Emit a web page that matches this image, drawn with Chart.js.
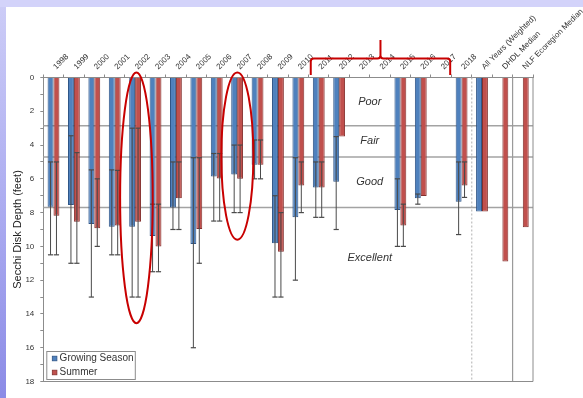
<!DOCTYPE html>
<html>
<head>
<meta charset="utf-8">
<script src="https://cdn.jsdelivr.net/npm/chart.js@4.4.1/dist/chart.umd.min.js"></script>
<style>
  html, body { margin: 0; padding: 0; }
  body {
    width: 583px; height: 398px; position: relative; overflow: hidden;
    background: linear-gradient(to bottom, #cdcdf7 0%, #aaaaf0 55%, #8b8be6 100%);
  }
  #band { position: absolute; left: 0; top: 0; width: 583px; height: 7px; background: #d3d3fa; }
  #panel { position: absolute; left: 6px; top: 7px; width: 577px; height: 391px; background: #fff; }
  canvas { display: block; }
</style>
</head>
<body>
<div id="band"></div>
<div id="panel"><canvas id="c" width="577" height="391"></canvas></div>
<script>
// Secchi disk depth by year, growing season vs. summer averages (feet)
const categories = [
  '1998', '1999', '2000', '2001', '2002', '2003', '2004', '2005', '2006', '2007',
  '2008', '2009', '2010', '2011', '2012', '2013', '2014', '2015', '2016', '2017',
  '2018', 'All Years (Weighted)', 'DHDL Median', 'NLF Ecoregion Median'
];

const growingSeason = [
  7.65, 7.55, 8.67, 8.83, 8.83, 9.39, 7.7, 9.86, 5.86, 5.74,
  5.17, 9.82, 8.28, 6.52, 6.18, null, null, 7.84, 7.15, null,
  7.35, 7.94, null, null
];
const summer = [
  8.18, 8.54, 8.93, 8.77, 8.54, 10.0, 7.15, 8.97, 5.98, 6.0,
  5.17, 10.32, 6.4, 6.52, 3.49, null, null, 8.77, 7.01, null,
  6.4, 7.94, 10.9, 8.87
];

// Range of observed depths (shallowest / deepest) for each bar
const growingMin = [
  5.0, 3.45, 5.47, 5.47, 3.0, 7.5, 5.0, 4.75, 4.5, 4.0,
  3.7, 7.0, 4.75, 5.0, 3.5, null, null, 6.0, 6.9, null,
  5.0, null, null, null
];
const growingMax = [
  10.5, 11.0, 13.0, 10.5, 13.0, 11.5, 9.0, 16.0, 8.5, 8.0,
  6.0, 13.0, 12.0, 8.28, 9.0, null, null, 10.0, 7.5, null,
  9.3, null, null, null
];
const summerMin = [
  5.0, 4.45, 6.0, 5.5, 3.0, 7.5, 5.0, 4.75, 4.5, 4.0,
  3.7, 8.0, 5.0, 5.0, null, null, null, 7.5, null, null,
  5.0, null, null, null
];
const summerMax = [
  10.5, 11.0, 10.0, 10.5, 13.0, 11.5, 9.0, 11.0, 8.5, 8.0,
  6.0, 13.0, 8.0, 8.28, null, null, null, 10.0, null, null,
  7.1, null, null, null
];

// Water clarity classes and the depths that separate them
const zoneNames = ['Poor', 'Fair', 'Good', 'Excellent'];
const zoneBreaks = [2.85, 4.7, 7.7];

const FONT = '"Liberation Sans", Arial, Helvetica, sans-serif';
const BLUE = '#4f81bd', BLUE_EDGE = '#2f5587';
const RED = '#c0504d', RED_EDGE = '#84302e';

function seg(ctx, x1, y1, x2, y2) {
  ctx.beginPath(); ctx.moveTo(x1, y1); ctx.lineTo(x2, y2); ctx.stroke();
}

const decorations = {
  id: 'decorations',
  beforeDatasetsDraw(chart) {
    const { ctx, chartArea: a, scales: { x, y } } = chart;
    ctx.save();
    // class boundary lines
    ctx.strokeStyle = '#a3a3a3';
    ctx.lineWidth = 1.5;
    zoneBreaks.forEach(d => {
      const py = y.getPixelForValue(d);
      seg(ctx, a.left, py, a.right, py);
    });
    // separators before the summary columns
    const s1 = (x.getPixelForValue(20) + x.getPixelForValue(21)) / 2;
    const s2 = (x.getPixelForValue(22) + x.getPixelForValue(23)) / 2;
    ctx.lineWidth = 1;
    ctx.strokeStyle = '#b0b0b0';
    ctx.setLineDash([2, 2]);
    seg(ctx, s1, a.top, s1, a.bottom);
    ctx.setLineDash([]);
    ctx.strokeStyle = '#9a9a9a';
    ctx.lineWidth = 1.2;
    seg(ctx, s2, a.top, s2, a.bottom);
    // class names
    ctx.fillStyle = '#333';
    ctx.font = 'italic 11px ' + FONT;
    ctx.textAlign = 'center';
    ctx.textBaseline = 'middle';
    const tx = (x.getPixelForValue(15) + x.getPixelForValue(16)) / 2;
    const mids = [
      zoneBreaks[0] / 2,
      (zoneBreaks[0] + zoneBreaks[1]) / 2,
      (zoneBreaks[1] + zoneBreaks[2]) / 2,
      zoneBreaks[2] + 3.0
    ];
    zoneNames.forEach((n, i) => ctx.fillText(n, tx, y.getPixelForValue(mids[i])));
    ctx.restore();
  },
  afterDatasetsDraw(chart) {
    const { ctx, chartArea: a, scales: { x, y } } = chart;
    ctx.save();
    // min / max range whiskers
    chart.data.datasets.forEach((ds, di) => {
      const meta = chart.getDatasetMeta(di);
      meta.data.forEach((bar, i) => {
        const lo = ds.rangeMin[i], hi = ds.rangeMax[i];
        if (lo == null || hi == null || ds.data[i] == null) return;
        const cx = bar.x;
        const y1 = y.getPixelForValue(lo), y2 = y.getPixelForValue(hi);
        ctx.strokeStyle = '#4a4a4a';
        ctx.lineWidth = 1;
        seg(ctx, cx, y1, cx, y2);
        ctx.lineWidth = 1.2;
        seg(ctx, cx - 2.6, y1, cx + 2.6, y1);
        seg(ctx, cx - 2.6, y2, cx + 2.6, y2);
      });
    });
    // plot frame (right and bottom)
    ctx.strokeStyle = '#8c8c8c';
    ctx.lineWidth = 1;
    seg(ctx, a.right, a.top, a.right, a.bottom);
    seg(ctx, a.left, a.bottom, a.right, a.bottom);

    // legend box, lower left corner of the plot
    const lx = a.left + 3.5, lw = 88.5, lh = 28, ly = a.bottom - 2 - lh;
    ctx.fillStyle = '#fff';
    ctx.fillRect(lx, ly, lw, lh);
    ctx.strokeStyle = '#8c8c8c';
    ctx.strokeRect(lx, ly, lw, lh);
    ctx.font = '10px ' + FONT;
    ctx.textAlign = 'left';
    ctx.textBaseline = 'middle';
    chart.data.datasets.forEach((ds, di) => {
      const cy = ly + 7 + di * 14;
      ctx.fillStyle = ds.backgroundColor;
      ctx.fillRect(lx + 5.5, cy - 2.3, 4.6, 4.6);
      ctx.strokeStyle = ds.borderColor;
      ctx.lineWidth = 0.8;
      ctx.strokeRect(lx + 5.5, cy - 2.3, 4.6, 4.6);
      ctx.fillStyle = '#333';
      ctx.fillText(ds.label, lx + 12.8, cy);
    });

    // highlight rings around 2002 and 2007
    ctx.strokeStyle = '#c80000';
    ctx.lineWidth = 2;
    const ring = (idx, dx, top, bottom, rx) => {
      const cx = x.getPixelForValue(idx) + dx;
      const t = y.getPixelForValue(top), b = y.getPixelForValue(bottom);
      ctx.beginPath();
      ctx.ellipse(cx, (t + b) / 2, rx, (b - t) / 2, 0, 0, Math.PI * 2);
      ctx.stroke();
    };
    ring(4, 1.3, -0.3, 14.55, 16.3);
    ring(9, 0.2, -0.3, 9.6, 16);

    // brace over the 2011-2017 gap years
    const bl = x.getPixelForValue(13) - 8, br = x.getPixelForValue(19) + 9;
    const bc = (bl + br) / 2, hy = a.top - 19, ey = a.top - 2.5, ty = a.top - 37.5, r = 3;
    ctx.beginPath();
    ctx.moveTo(bl, ey);
    ctx.lineTo(bl, hy + r);
    ctx.quadraticCurveTo(bl, hy, bl + r, hy);
    ctx.lineTo(bc - r, hy);
    ctx.quadraticCurveTo(bc, hy, bc, hy - r);
    ctx.lineTo(bc, ty);
    ctx.moveTo(bc, hy - r);
    ctx.quadraticCurveTo(bc, hy, bc + r, hy);
    ctx.lineTo(br - r, hy);
    ctx.quadraticCurveTo(br, hy, br, hy + r);
    ctx.lineTo(br, ey);
    ctx.stroke();
    ctx.restore();
  }
};

new Chart(document.getElementById('c'), {
  type: 'bar',
  data: {
    labels: categories,
    datasets: [
      {
        label: 'Growing Season', data: growingSeason,
        rangeMin: growingMin, rangeMax: growingMax,
        backgroundColor: BLUE, borderColor: BLUE_EDGE, borderWidth: 1
      },
      {
        label: 'Summer', data: summer,
        rangeMin: summerMin, rangeMax: summerMax,
        backgroundColor: RED, borderColor: RED_EDGE, borderWidth: 1
      }
    ]
  },
  options: {
    responsive: false,
    animation: false,
    devicePixelRatio: 1,
    layout: { padding: { left: 5, top: 0, right: 50, bottom: 16.5 } },
    datasets: { bar: { categoryPercentage: 0.58, barPercentage: 1 } },
    plugins: { legend: { display: false }, tooltip: { enabled: false } },
    scales: {
      x: {
        position: 'top',
        grid: { offset: true, drawOnChartArea: false, tickLength: 3, color: '#8c8c8c' },
        border: { color: '#8c8c8c' },
        ticks: {
          autoSkip: false, minRotation: 45, maxRotation: 45,
          padding: 3, labelOffset: 8,
          color: '#333', font: { family: FONT, size: 8 }
        },
        afterFit(s) { s.height = 70.5; s.paddingLeft = 0; s.paddingRight = 0; }
      },
      y: {
        reverse: true, min: 0, max: 18,
        grid: { drawOnChartArea: false, tickLength: 3, color: '#8c8c8c' },
        border: { color: '#8c8c8c' },
        ticks: {
          stepSize: 1, padding: 6,
          callback: v => (v % 2 ? '' : v),
          color: '#333', font: { family: FONT, size: 8 }
        },
        title: {
          display: true, text: 'Secchi Disk Depth (feet)',
          color: '#222', padding: 0, font: { family: FONT, size: 11 }
        },
        afterFit(s) { s.width = 32.3; s.paddingTop = 0; s.paddingBottom = 0; }
      }
    }
  },
  plugins: [decorations]
});
</script>
</body>
</html>
